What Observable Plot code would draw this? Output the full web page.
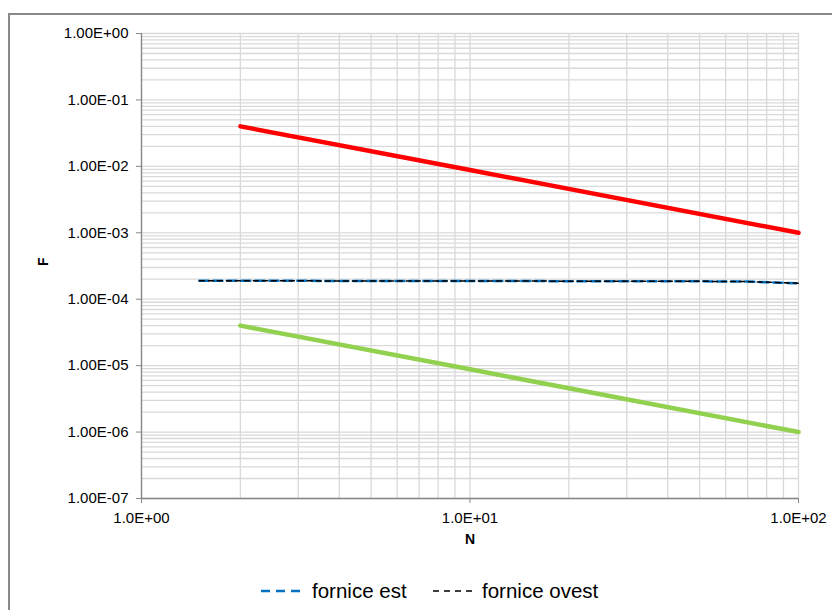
<!DOCTYPE html>
<html>
<head>
<meta charset="utf-8">
<script src="https://cdn.jsdelivr.net/npm/d3@7"></script>
<script src="https://cdn.jsdelivr.net/npm/@observablehq/plot@0.6"></script>
<style>
  html, body { margin: 0; padding: 0; background: #fff; overflow: hidden; width: 832px; height: 610px; }
  body { position: relative; font-family: "Liberation Sans", Arial, sans-serif; }
  #frame { position: absolute; left: 8px; top: 13px; width: 900px; height: 700px; border: 2px solid #898989; box-sizing: border-box; }
  #chart { position: absolute; left: 0; top: 0; }
  #legend { position: absolute; left: 0; top: 578px; width: 832px; height: 26px; font-size: 20.5px; color: #000; }
  .item { position: absolute; top: 0; display: flex; align-items: center; height: 26px; }
  .item svg { margin-right: 6px; }
</style>
</head>
<body>
<div id="frame"></div>
<div id="chart"></div>
<div id="legend"></div>
<script>
// ---- data ----
const xTicks = [1, 10, 100];
const yTicks = [1, 1e-1, 1e-2, 1e-3, 1e-4, 1e-5, 1e-6, 1e-7];

const redN = [2, 10, 100];
const redF = [0.04, 0.0088, 0.001];

const greenN = [2, 10, 100];
const greenF = [4e-5, 8.8e-6, 1e-6];

const estN = [1.5, 2, 5, 10, 20, 50, 70, 100];
const estF = [1.9e-4, 1.9e-4, 1.88e-4, 1.88e-4, 1.87e-4, 1.86e-4, 1.84e-4, 1.73e-4];

const ovestN = [1.5, 2, 5, 10, 20, 50, 70, 100];
const ovestF = [1.9e-4, 1.9e-4, 1.88e-4, 1.88e-4, 1.87e-4, 1.86e-4, 1.84e-4, 1.74e-4];

const seriesNames = ["fornice est", "fornice ovest"];

// ---- helpers ----
const zip = (xs, ys) => xs.map((x, i) => ({N: x, F: ys[i]}));
function expStr(v) {
  const e = Math.round(Math.log10(v));
  const s = e < 0 ? "-" : "+";
  return s + String(Math.abs(e)).padStart(2, "0");
}
const fmtY = v => "1.00E" + expStr(v);
const fmtX = v => "1.0E" + expStr(v);

// minor grid values (1..9 per decade)
const minorX = [];
for (const d of [1, 10]) for (let k = 1; k <= 9; k++) minorX.push(k * d);
minorX.push(100);
const minorY = [];
for (const d of [1e-7, 1e-6, 1e-5, 1e-4, 1e-3, 1e-2, 1e-1]) for (let k = 1; k <= 9; k++) minorY.push(k * d);
minorY.push(1);

const grid = "#d9d9d9";
const axisCol = "#868686";
const font = "Liberation Sans, Arial, sans-serif";

const plot = Plot.plot({
  width: 832,
  height: 560,
  marginLeft: 141,
  marginRight: 34,
  marginTop: 33,
  marginBottom: 62,
  style: {fontFamily: font, fontSize: "15px", color: "#000", background: "transparent"},
  x: {type: "log", domain: [1, 100]},
  y: {type: "log", domain: [1e-7, 1]},
  marks: [
    Plot.ruleX(minorX, {stroke: grid, strokeWidth: 1.3}),
    Plot.ruleY(minorY, {stroke: grid, strokeWidth: 1.3}),
    Plot.ruleX([1], {stroke: axisCol, strokeWidth: 1.3}),
    Plot.ruleY([1e-7], {stroke: axisCol, strokeWidth: 1.3}),
    Plot.axisX({ticks: xTicks, tickFormat: fmtX, tickSize: 5, tickPadding: 9, stroke: axisCol, fontSize: 15, label: null}),
    Plot.axisY({ticks: yTicks, tickFormat: fmtY, tickSize: 5, tickPadding: 8, stroke: axisCol, fontSize: 15, label: null}),
    Plot.line(zip(redN, redF), {x: "N", y: "F", stroke: "#ff0000", strokeWidth: 4.5}),
    Plot.line(zip(greenN, greenF), {x: "N", y: "F", stroke: "#92d050", strokeWidth: 4.5}),
    Plot.line(zip(estN, estF), {x: "N", y: "F", stroke: "#0070c0", strokeWidth: 2.5, strokeDasharray: "9,5"}),
    Plot.line(zip(ovestN, ovestF), {x: "N", y: "F", stroke: "#000000", strokeWidth: 1.5, strokeDasharray: "5,4"}),
    Plot.text(["N"], {frameAnchor: "bottom", dy: 45, fontWeight: "bold", fontSize: 14, fill: "#000"}),
    Plot.text(["F"], {frameAnchor: "left", dx: -98, rotate: -90, fontWeight: "bold", fontSize: 14, fill: "#000"})
  ]
});
document.getElementById("chart").appendChild(plot);

// ---- legend ----
const legend = document.getElementById("legend");
const items = [
  {name: seriesNames[0], color: "#0070c0", dash: "9,6", w: 2.5, left: 261, len: 45},
  {name: seriesNames[1], color: "#000000", dash: "6,5", w: 1.5, left: 433, len: 43}
];
for (const it of items) {
  const div = document.createElement("div");
  div.className = "item";
  div.style.left = it.left + "px";
  div.innerHTML = `<svg width="${it.len}" height="10"><line x1="0" y1="5" x2="${it.len}" y2="5" stroke="${it.color}" stroke-width="${it.w}" stroke-dasharray="${it.dash}"/></svg><span>${it.name}</span>`;
  legend.appendChild(div);
}
</script>
</body>
</html>
